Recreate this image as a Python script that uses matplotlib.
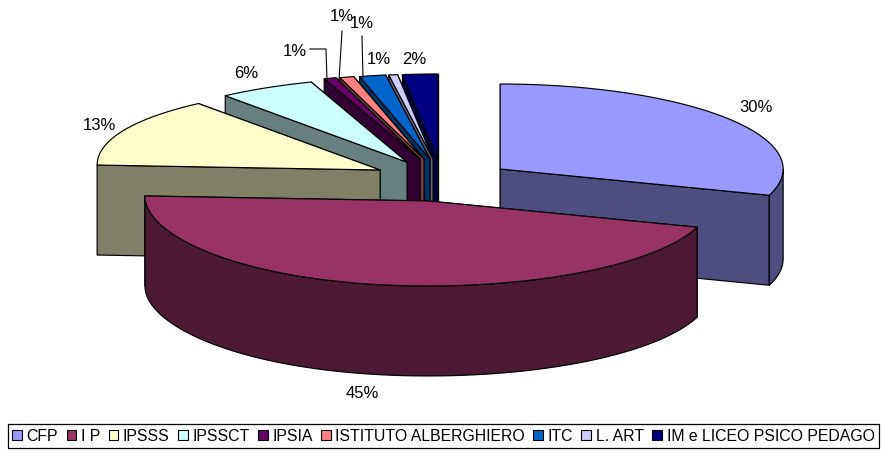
import numpy as np
import matplotlib
matplotlib.use("Agg")
import matplotlib.pyplot as plt
from matplotlib.patches import Patch

plt.rcParams['font.family'] = ['Liberation Sans', 'DejaVu Sans']

categories = ['CFP', 'I P', 'IPSSS', 'IPSSCT', 'IPSIA', 'ISTITUTO ALBERGHIERO', 'ITC', 'L. ART', 'IM e LICEO PSICO PEDAGO']
values = [30.0, 45.0, 13.9, 5.6, 0.7, 0.8, 1.5, 0.5, 2.0]
pct_labels = ['30%', '45%', '13%', '6%', '1%', '1%', '1%', '1%', '2%']
top_colors = ['#9999FF', '#993366', '#FFFFCC', '#CCFFFF', '#660066', '#FF8080', '#0066CC', '#CCCCFF', '#000080']
side_colors = ['#4D4D80', '#4D1A33', '#808066', '#668080', '#330033', '#804040', '#003366', '#666680', '#000040']

# --- layout (pixels of the 882x452 canvas) ---
W, H = 882, 452
CX, CY = 439, 170      # pie centre
RX, RY = 283, 85       # pixels per unit radius, horizontally / vertically
DEPTH = 90 / RY        # pie thickness in units of RY
TILT = 5 / RY          # perspective lift of the left half
# explosion of each slice from the centre (x, y in radius units, y up)
explode = [(0.216, 0.0), (-0.039, -0.376), (-0.208, -0.012), (-0.113, 0.08),
           (-0.067, 0.118), (-0.053, 0.118), (-0.032, 0.118), (-0.021, 0.118), (-0.004, 0.118)]
draw_order = [8, 7, 6, 5, 4, 3, 2, 0, 1]

label_px = [(756, 108), (362, 393), (99, 125), (246, 73), (295, 51), (342, 16), (362, 23), (379, 60), (414, 59)]
leaders_px = [[(310, 50), (326, 50), (327, 81)],
              [(342, 32), (339, 81)],
              [(362, 37), (363, 79)]]

fig = plt.figure(figsize=(W / 100, H / 100), dpi=100)
ax = fig.add_axes([0, 0, 1, 1])
ax.set_xlim(-CX / RX, (W - CX) / RX)
ax.set_ylim(-(H - CY) / RY, CY / RY)
ax.axis('off')


def px(p):
    return (p[0] - CX) / RX, (CY - p[1]) / RY


def rim(theta, c):
    """Point on the rim for clockwise-from-top angle(s) theta (radians)."""
    s, co = np.sin(theta), np.cos(theta)
    return c[0] + s, c[1] + co + TILT * np.maximum(0, -s) ** 3


edges = np.cumsum([0] + values) / sum(values) * 2 * np.pi
LW = 0.85

for i in draw_order:
    a0, a1 = edges[i], edges[i + 1]
    c = explode[i]
    arc = np.linspace(a0, a1, max(6, int((a1 - a0) * 60)))
    ax_, ay_ = rim(arc, c)

    walls = []
    for a in (a0, a1):
        x, y = rim(a, c)
        walls.append(([c[0], x, x, c[0]], [c[1], y, y - DEPTH, c[1] - DEPTH]))
    lo, hi = max(a0, np.pi / 2), min(a1, 3 * np.pi / 2)
    if hi > lo:
        t = np.linspace(lo, hi, 200)
        ox, oy = rim(t, c)
        walls.append((np.r_[ox, ox[::-1]], np.r_[oy, oy[::-1] - DEPTH]))
    walls.sort(key=lambda w: -np.mean(w[1]))
    for wx, wy in walls:
        ax.fill(wx, wy, facecolor=side_colors[i], edgecolor='black', lw=LW, joinstyle='round')

    ax.fill(np.r_[c[0], ax_], np.r_[c[1], ay_], facecolor=top_colors[i], edgecolor='black', lw=LW, joinstyle='round')

for lab, p in zip(pct_labels, label_px):
    x, y = px(p)
    ax.text(x, y, lab, fontsize=12, ha='center', va='center', color='black')

for seg in leaders_px:
    pts = np.array([px(p) for p in seg])
    ax.plot(pts[:, 0], pts[:, 1], color='black', lw=0.8)

handles = [Patch(facecolor=c, edgecolor='black', lw=0.8, joinstyle='miter') for c in top_colors]
leg = fig.legend(handles, categories, ncol=9, loc='center',
                 bbox_to_anchor=(443.5 / W, 1 - 437 / H), fontsize=11.4,
                 frameon=True, fancybox=False, edgecolor='black', framealpha=1,
                 handlelength=0.62, handleheight=0.62, handletextpad=0.28,
                 columnspacing=0.53, borderpad=0.3, borderaxespad=0)
leg.get_frame().set_linewidth(0.9)

fig.savefig('out.png', dpi=100)
